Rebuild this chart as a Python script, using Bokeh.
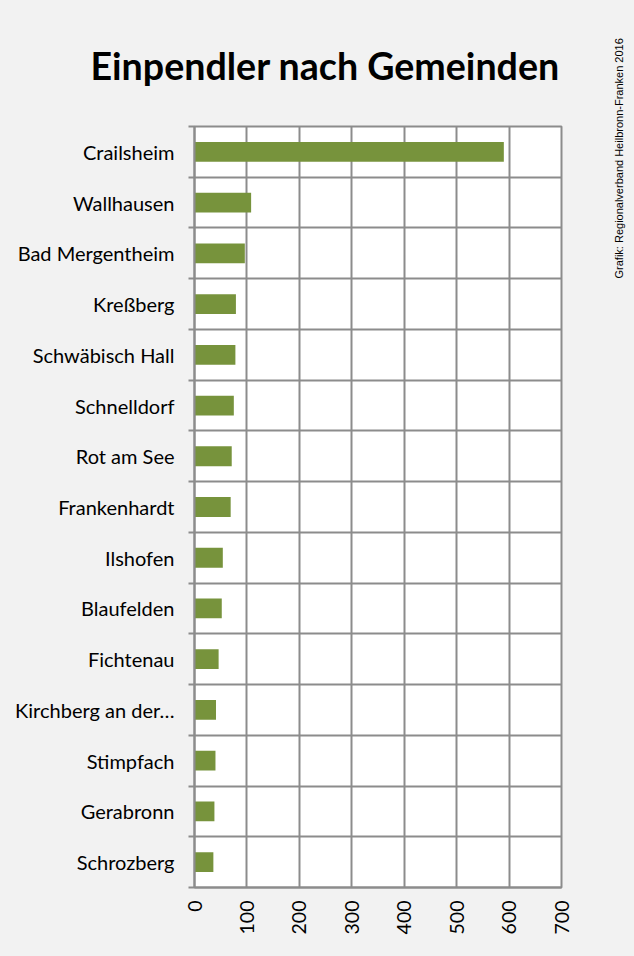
import math
from bokeh.plotting import figure
from bokeh.layouts import row
from bokeh.models import Range1d, FixedTicker, Title
from bokeh.embed import file_html
from bokeh.resources import INLINE

# ---- data ----
gemeinden = ["Crailsheim", "Wallhausen", "Bad Mergentheim", "Kreßberg", "Schwäbisch Hall",
             "Schnelldorf", "Rot am See", "Frankenhardt", "Ilshofen", "Blaufelden",
             "Fichtenau", "Kirchberg an der…", "Stimpfach", "Gerabronn", "Schrozberg"]
einpendler = [590, 108, 96, 79, 78, 75, 71, 69, 54, 52, 46, 41, 40, 38, 36]
x_ticks = [0, 100, 200, 300, 400, 500, 600, 700]
title_text = "Einpendler nach Gemeinden"
credit_text = "Grafik: Regionalverband Heilbronn-Franken 2016"

n = len(gemeinden)
centers = [i + 0.5 for i in range(n)]
bounds = list(range(n + 1))

GRID = "#8c8c8c"
BAR = "#77933c"
BG = "#f2f2f2"
FONT = "Lato"

p = figure(width=594, height=956, output_backend="svg", toolbar_location=None,
           x_range=Range1d(0, 700), y_range=Range1d(n, 0),
           min_border_left=194, min_border_right=33, min_border_top=126, min_border_bottom=69)
p.background_fill_color = "white"
p.border_fill_color = BG
p.outline_line_color = GRID
p.outline_line_width = 2

p.hbar(y=centers, right=einpendler, left=0, height=0.39, fill_color=BAR, line_color=None)

# x axis
p.xaxis.ticker = FixedTicker(ticks=x_ticks)
p.xaxis.major_label_orientation = math.pi / 2
p.xaxis.major_tick_line_color = None
p.xaxis.minor_tick_line_color = None
p.xaxis.axis_line_color = GRID
p.xaxis.axis_line_width = 2
p.xaxis.major_label_text_font = FONT
p.xaxis.major_label_text_font_size = "19.5px"
p.xaxis.major_label_text_color = "black"
p.xaxis.major_label_standoff = 7

# y axis
p.yaxis.ticker = FixedTicker(ticks=centers, minor_ticks=bounds)
p.yaxis.major_label_overrides = {c: g for c, g in zip(centers, gemeinden)}
p.yaxis.major_tick_line_color = None
p.yaxis.minor_tick_line_color = GRID
p.yaxis.minor_tick_line_width = 2
p.yaxis.minor_tick_out = 6
p.yaxis.minor_tick_in = 0
p.yaxis.axis_line_color = GRID
p.yaxis.axis_line_width = 2
p.yaxis.major_label_text_font = FONT
p.yaxis.major_label_text_font_size = "20px"
p.yaxis.major_label_text_color = "black"
p.yaxis.major_label_standoff = 14

# grids
p.xgrid.ticker = FixedTicker(ticks=x_ticks)
p.xgrid.grid_line_color = GRID
p.xgrid.grid_line_width = 2
p.ygrid.ticker = FixedTicker(ticks=bounds)
p.ygrid.grid_line_color = GRID
p.ygrid.grid_line_width = 2

t = Title(text=title_text, align="left", offset=-104, text_font=FONT, text_font_style="bold",
          text_font_size="37.6px", text_color="black", standoff=78)
p.add_layout(t, "above")

# narrow side strip carrying the vertical credit line (as a side title, reads bottom-to-top)
c = figure(width=40, height=956, output_backend="svg", toolbar_location=None, title=None,
           x_range=Range1d(0, 1), y_range=Range1d(0, 1),
           x_axis_location=None, y_axis_location=None,
           min_border=0, min_border_left=30)
c.background_fill_color = BG
c.border_fill_color = BG
c.outline_line_color = None
c.xgrid.visible = False
c.ygrid.visible = False
c.add_layout(Title(text=credit_text, align="left", offset=609, standoff=0,
                   text_font="Liberation Sans", text_font_size="11px",
                   text_font_style="normal", text_color="black"), "left")

layout = row(p, c, spacing=0, styles={"background-color": BG})
open("out.html", "w").write(file_html(layout, INLINE))
